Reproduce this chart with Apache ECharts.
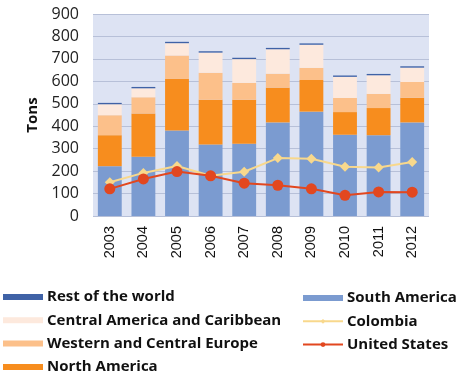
<!DOCTYPE html>
<html><head><meta charset="utf-8">
<script src="https://cdn.jsdelivr.net/npm/echarts@6/dist/echarts.min.js"></script>
<style>html,body{margin:0;padding:0;background:#fff}#c{width:462px;height:382px}</style>
</head><body><div id="c"></div>
<script>
const years = ['2003','2004','2005','2006','2007','2008','2009','2010','2011','2012'];
const southAmerica = [222, 264, 381, 319, 322, 417, 465, 362, 360, 417];
const northAmerica = [138, 193, 230, 199, 196, 155, 141, 101, 121, 110];
const westernCentralEurope = [89, 72, 104, 120, 75, 62, 54, 63, 63, 70];
const centralAmericaCaribbean = [49, 40, 55, 90, 106, 109, 103, 94, 83, 64];
const restOfWorld = [6, 6, 6, 6, 6, 6, 6, 6, 6, 6];
const colombia = [150, 192, 223, 179, 197, 258, 255, 219, 216, 241];
const unitedStates = [121, 165, 198, 179, 146, 137, 121, 92, 107, 106];
const yTicks = [0, 900, 100];

const FONT = 'Open Sans';
const chart = echarts.init(document.getElementById('c'), null, {renderer: 'canvas'});
const barW = '71%';
function bar(name, data, color) {
  return {name, type: 'bar', stack: 'total', data, barWidth: barW,
    itemStyle: {color}, emphasis: {disabled: true}, animation: false};
}
const legendText = {fontFamily: FONT, fontWeight: 'bold', fontSize: 15, color: '#111', lineHeight: 16, padding: [0, 0, 0, -1]};
chart.setOption({
  animation: false,
  backgroundColor: '#ffffff',
  grid: {left: 93, right: 33, top: 14, bottom: 166, backgroundColor: '#dde3f3', show: true, borderWidth: 0},
  xAxis: {
    type: 'category', data: years,
    axisLine: {show: false}, axisTick: {show: false},
    axisLabel: {rotate: 90, color: '#111', fontFamily: 'Liberation Sans', fontSize: 14.5, margin: 10}
  },
  yAxis: {
    type: 'value', min: yTicks[0], max: yTicks[1], interval: yTicks[2],
    name: 'Tons', nameLocation: 'middle', nameRotate: 90, nameGap: 52,
    nameTextStyle: {fontFamily: FONT, fontWeight: 'bold', fontSize: 15, color: '#111'},
    axisLine: {show: false}, axisTick: {show: false},
    axisLabel: {color: '#222', fontFamily: FONT, fontSize: 16, margin: 14},
    splitLine: {lineStyle: {color: '#b7c0d8', width: 1}}
  },
  legend: [
    {left: 3, top: 289, padding: 0, orient: 'vertical', itemWidth: 40, itemHeight: 6, itemGap: 7.3,
     data: [{name: 'Rest of the world', icon: 'rect'}, {name: 'Central America and Caribbean', icon: 'rect'},
            {name: 'Western and Central Europe', icon: 'rect'}, {name: 'North America', icon: 'rect'}],
     textStyle: legendText},
    {left: 302, top: 290, padding: 0, orient: 'vertical', itemWidth: 40, itemHeight: 6, itemGap: 7.3,
     data: [{name: 'South America', icon: 'rect'}, 'Colombia', 'United States'],
     textStyle: legendText}
  ],
  series: [
    bar('South America', southAmerica, '#7b9bd0'),
    bar('North America', northAmerica, '#f78d1e'),
    bar('Western and Central Europe', westernCentralEurope, '#fcc08a'),
    bar('Central America and Caribbean', centralAmericaCaribbean, '#fde9dd'),
    bar('Rest of the world', restOfWorld, '#3f62a6'),
    {name: 'Colombia', type: 'line', data: colombia, symbol: 'diamond', symbolSize: 10,
     lineStyle: {color: '#f8d88c', width: 2}, itemStyle: {color: '#f8d88c'}, z: 5},
    {name: 'United States', type: 'line', data: unitedStates, symbol: 'circle', symbolSize: 11,
     lineStyle: {color: '#e2471f', width: 2}, itemStyle: {color: '#e2471f'}, z: 6}
  ]
});
</script></body></html>
